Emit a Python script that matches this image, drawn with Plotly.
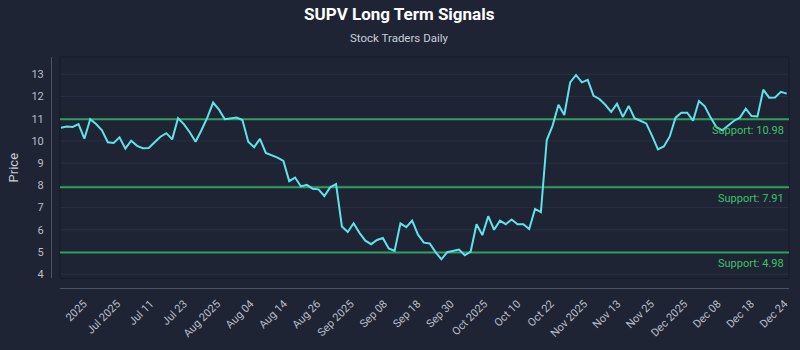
import plotly.graph_objects as go

# Daily closing prices (trading sessions, late Jun 2025 to late Dec 2025)
prices = [
    10.59, 10.65, 10.63, 10.76, 10.10, 10.98, 10.76, 10.48, 9.94, 9.91,
    10.16, 9.65, 10.01, 9.78, 9.67, 9.68, 9.94, 10.19, 10.35, 10.07,
    11.02, 10.76, 10.39, 9.96, 10.48, 11.05, 11.73, 11.41, 10.98, 11.01,
    11.05, 10.94, 9.96, 9.72, 10.09, 9.46, 9.35, 9.25, 9.10, 8.19,
    8.35, 7.95, 8.02, 7.85, 7.82, 7.52, 7.91, 8.06, 6.15, 5.90,
    6.29, 5.86, 5.51, 5.35, 5.54, 5.63, 5.16, 5.05, 6.29, 6.12,
    6.41, 5.78, 5.42, 5.38, 4.99, 4.67, 4.99, 5.06, 5.11, 4.85,
    5.02, 6.25, 5.76, 6.61, 6.00, 6.41, 6.25, 6.46, 6.25, 6.25,
    6.03, 6.94, 6.79, 10.04, 10.69, 11.63, 11.17, 12.64, 12.97, 12.64,
    12.75, 12.03, 11.89, 11.63, 11.31, 11.67, 11.08, 11.58, 11.02, 10.91,
    10.79, 10.23, 9.62, 9.75, 10.19, 11.05, 11.27, 11.27, 10.91, 11.80,
    11.56, 11.05, 10.62, 10.48, 10.69, 10.91, 11.05, 11.45, 11.12, 11.10,
    12.31, 11.95, 11.96, 12.21, 12.13,
]
sessions = list(range(len(prices)))

# Support levels
support_levels = [10.98, 7.91, 4.98]

# Y-axis ticks (also used for the horizontal grid)
y_ticks = [4, 5, 6, 7, 8, 9, 10, 11, 12, 13]

# X-axis labels and the session positions they sit at
tick_labels = [
    "2025", "Jul 2025", "Jul 11", "Jul 23", "Aug 2025", "Aug 04", "Aug 14",
    "Aug 26", "Sep 2025", "Sep 08", "Sep 18", "Sep 30", "Oct 2025", "Oct 10",
    "Oct 22", "Nov 2025", "Nov 13", "Nov 25", "Dec 2025", "Dec 08", "Dec 18",
    "Dec 24",
]
tick_positions = [
    3.9, 9.6, 15.3, 21.0, 26.7, 32.4, 38.1, 43.8, 49.5, 55.2, 60.9,
    66.6, 72.3, 78.0, 83.7, 89.4, 95.1, 100.8, 106.5, 112.2, 117.9, 123.6,
]

BG = "#1e2434"
FONT = "Roboto, 'Noto Sans', sans-serif"
LINE = "#5fe3ea"
GREEN_LINE = "#2f9e5f"
GREEN_TEXT = "#3cc26c"
AXIS = "#4b5262"
GRID = "#283045"
TICK_TEXT = "#b9bfca"

fig = go.Figure()
fig.add_trace(go.Scatter(
    x=sessions, y=prices, mode="lines",
    line=dict(color=LINE, width=2),
    hoverinfo="y", showlegend=False,
))

shapes = []
annotations = []

# horizontal grid, drawn first so the support lines sit on top of it
for v in y_ticks:
    shapes.append(dict(
        type="line", xref="x domain", yref="y", x0=0, x1=1, y0=v, y1=v,
        line=dict(color=GRID, width=1), layer="below",
    ))

# plot frame
shapes.append(dict(
    type="rect", xref="x domain", yref="y domain", x0=0, x1=1, y0=0, y1=1,
    line=dict(color="#151a25", width=1), layer="below",
))

for lvl in support_levels:
    shapes.append(dict(
        type="line", xref="x domain", yref="y", x0=0, x1=1, y0=lvl, y1=lvl,
        line=dict(color=GREEN_LINE, width=2), layer="below",
    ))
    annotations.append(dict(
        xref="paper", yref="y", x=1, y=lvl, xanchor="right", yanchor="top",
        xshift=-3, yshift=-3, showarrow=False, text=f"Support: {lvl:.2f}",
        font=dict(family=FONT, size=11, color=GREEN_TEXT),
    ))

annotations.append(dict(
    xref="paper", yref="paper", x=0.48, y=1, yshift=43, yanchor="middle",
    showarrow=False, text="<b>SUPV Long Term Signals</b>",
    font=dict(family=FONT, size=17, color="#ffffff"),
))
annotations.append(dict(
    xref="paper", yref="paper", x=0.48, y=1, yshift=19, yanchor="middle",
    showarrow=False, text="Stock Traders Daily",
    font=dict(family=FONT, size=11.5, color="#c9ced8"),
))

fig.update_layout(
    width=800, height=350,
    margin=dict(l=40, r=10, t=57, b=53),
    paper_bgcolor=BG, plot_bgcolor=BG,
    font=dict(family=FONT, color=TICK_TEXT),
    shapes=shapes, annotations=annotations,
    xaxis=dict(
        domain=[0.02667, 1], anchor="free", position=0,
        range=[-0.17, 124.39],
        tickmode="array", tickvals=tick_positions, ticktext=tick_labels,
        tickangle=-45, tickfont=dict(family=FONT, size=11, color=TICK_TEXT),
        showgrid=False, zeroline=False,
        showline=True, linecolor=AXIS, linewidth=1,
        ticks="outside", ticklen=4, tickcolor=BG,
    ),
    yaxis=dict(
        domain=[0.04167, 1], anchor="free", position=0.01467,
        range=[3.81, 13.78], tickmode="array", tickvals=y_ticks,
        tickfont=dict(family=FONT, size=11, color=TICK_TEXT),
        showgrid=False, zeroline=False,
        showline=True, linecolor=AXIS, linewidth=1,
        ticks="outside", ticklen=5, tickcolor=BG,
        title=dict(text="Price", font=dict(family=FONT, size=13, color="#c9ced8"), standoff=8),
    ),
)

fig.write_html("out.html")
